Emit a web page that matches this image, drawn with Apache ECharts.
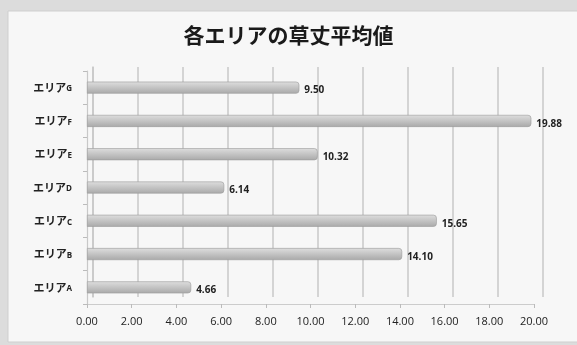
<!DOCTYPE html>
<html>
<head>
<meta charset="utf-8">
<script src="https://cdn.jsdelivr.net/npm/echarts@6/dist/echarts.min.js"></script>
<style>
  html, body { margin: 0; padding: 0; background: #dcdcdc; }
  #main { width: 577px; height: 345px; }
</style>
</head>
<body>
<div id="main"></div>
<script>
// データ
var areas = ['エリアA', 'エリアB', 'エリアC', 'エリアD', 'エリアE', 'エリアF', 'エリアG'];
var heights = [4.66, 14.10, 15.65, 6.14, 10.32, 19.88, 9.50];
var xTicks = [0, 2, 4, 6, 8, 10, 12, 14, 16, 18, 20];

var chart = echarts.init(document.getElementById('main'));
var jp = '"Noto Sans CJK JP", sans-serif';
var num = '"Open Sans", "Noto Sans", sans-serif';

var option = {
    backgroundColor: '#dcdcdc',
    animation: false,
    // 外枠
    graphic: [{
        type: 'rect',
        shape: { x: 8, y: 11, width: 580, height: 331 },
        style: { fill: '#f7f7f7', stroke: '#cfcfcf', lineWidth: 1 },
        z: -10
    }],
    title: {
        text: '各エリアの草丈平均値',
        left: 'center',
        top: 25,
        padding: 0,
        textStyle: { fontFamily: jp, fontSize: 21, fontWeight: 'bold', color: '#1a1a1a' }
    },
    grid: [
        // 奥の壁（目盛線）
        { left: 93, right: 34, top: 67, bottom: 48 },
        // 棒と手前の軸
        { left: 87, right: 43, top: 71, bottom: 41 }
    ],
    xAxis: [{
        gridIndex: 0,
        type: 'value',
        min: xTicks[0],
        max: xTicks[xTicks.length - 1],
        interval: 2,
        axisLine: { show: false },
        axisTick: { show: false },
        axisLabel: { show: false },
        splitLine: { show: true, lineStyle: { color: '#c8c8c8', width: 1.5 } }
    }, {
        gridIndex: 1,
        type: 'value',
        min: xTicks[0],
        max: xTicks[xTicks.length - 1],
        interval: 2,
        axisLine: { show: true, lineStyle: { color: '#cccccc', width: 1.2 } },
        axisTick: { show: true, length: 4, lineStyle: { color: '#bbbbbb' } },
        splitLine: { show: false },
        axisLabel: {
            margin: 12,
            fontFamily: num, fontSize: 11, color: '#222',
            formatter: function (v) { return v.toFixed(2); }
        }
    }],
    yAxis: [{
        gridIndex: 0,
        type: 'category',
        data: areas,
        axisLine: { show: true, lineStyle: { color: '#c8c8c8', width: 1.5 } },
        axisTick: { show: false },
        axisLabel: { show: false }
    }, {
        gridIndex: 1,
        type: 'category',
        data: areas,
        axisLine: { show: true, lineStyle: { color: '#c8c8c8', width: 1.2 } },
        axisTick: { show: true, length: 4, lineStyle: { color: '#bbbbbb' } },
        axisLabel: {
            margin: 15,
            formatter: function (v) {
                return '{a|' + v.slice(0, -1) + '}{b|' + v.slice(-1) + '}';
            },
            rich: {
                a: { fontFamily: jp, fontSize: 11, fontWeight: 'bold', color: '#222' },
                b: { fontFamily: num, fontSize: 8, fontWeight: 'bold', color: '#222', verticalAlign: 'bottom', padding: [3, 0, 0, 0] }
            }
        }
    }],
    series: [{
        type: 'bar',
        xAxisIndex: 1,
        yAxisIndex: 1,
        data: heights,
        barWidth: 12,
        itemStyle: {
            color: new echarts.graphic.LinearGradient(0, 0, 0, 1, [
                { offset: 0, color: '#dedede' },
                { offset: 0.45, color: '#c6c6c6' },
                { offset: 1, color: '#a9a9a9' }
            ]),
            borderColor: '#9a9a9a',
            borderWidth: 0.6,
            borderRadius: [0, 3, 3, 0]
        },
        label: {
            show: true,
            position: 'right',
            distance: 5,
            offset: [0, 3],
            fontFamily: num,
            fontSize: 10,
            fontWeight: 'bold',
            color: '#222',
            formatter: function (p) { return p.value.toFixed(2); }
        }
    }]
};

chart.setOption(option);
</script>
</body>
</html>
